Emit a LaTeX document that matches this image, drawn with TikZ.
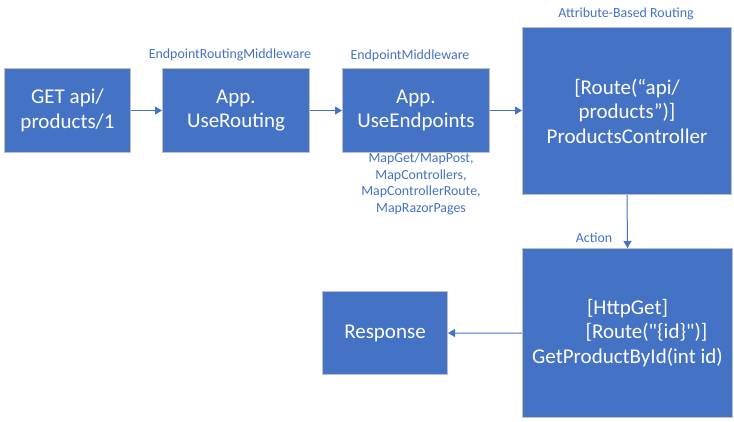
\documentclass[tikz,border=0pt]{standalone}
\usepackage{fontspec}
\setmainfont{Carlito}
\newfontfamily\qfont{Carlito}[Ligatures=TeXOff]
\usetikzlibrary{arrows.meta}
\definecolor{boxblue}{HTML}{4472C4}
\definecolor{boxedge}{HTML}{BFBFBF}
\tikzset{
  box/.style={draw=boxedge, line width=1bp, fill=boxblue, text=white, align=center,
    anchor=north west, inner sep=2bp, font=\fontsize{21bp}{24.5bp}\selectfont},
  lbl/.style={text=boxblue, align=center, inner sep=0pt, font=\fontsize{13.9bp}{16.7bp}\selectfont},
  conn/.style={draw=boxblue, line width=1bp, -{Triangle[length=7bp,width=8bp]}}
}
\begin{document}
\begin{tikzpicture}[x=1bp,y=-1bp]
\useasboundingbox (0,0) rectangle (734,421);
\node[box, minimum width=126bp, minimum height=84bp] (req) at (4,68) {GET api/\\products/1};
\node[box, minimum width=147bp, minimum height=84bp] (rout) at (162,68) {App.\\UseRouting};
\node[box, minimum width=147bp, minimum height=84bp] (endp) at (342,68) {App.\\UseEndpoints};
\node[box, minimum width=209bp, minimum height=167bp] (ctrl) at (522,27) {[Route(“api/\\products”)]\\ProductsController};
\node[box, minimum width=210bp, minimum height=169bp] (act) at (522,248) {[HttpGet]\\\hspace*{38bp}{\qfont[Route("\{id\}")]}\\GetProductById(int id)};
\node[box, minimum width=125bp, minimum height=83bp] (resp) at (322,291) {Response};

\node[lbl] (l1) at (230,55) {EndpointRoutingMiddleware};
\node[lbl] (l2) at (410,56) {EndpointMiddleware};
\node[lbl] (l3) at (626,14) {Attribute-Based Routing};
\node[lbl] (l4) at (594,238) {Action};
\node[lbl] (l5) at (421,184) {MapGet/MapPost,\\MapControllers,\\MapControllerRoute,\\MapRazorPages};

\draw[conn] (req.east) -- (rout.west);
\draw[conn] (rout.east) -- (endp.west);
\draw[conn] (endp.east) -- (endp.east -| ctrl.west);
\draw[conn] (ctrl.south) -- (act.north);
\draw[conn] (act.west) -- (resp.east);
\end{tikzpicture}
\end{document}
